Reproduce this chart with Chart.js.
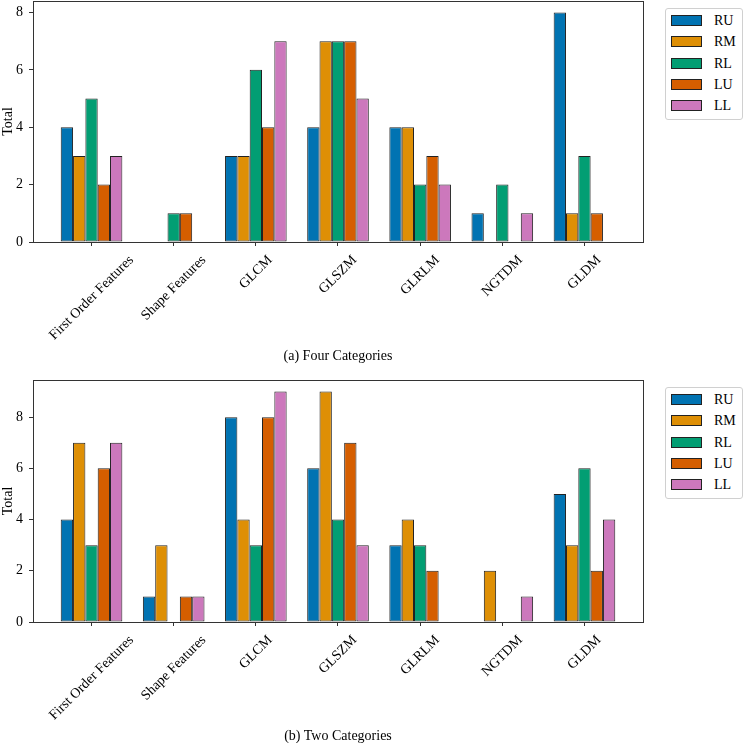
<!DOCTYPE html>
<html lang="en">
<head>
    <meta charset="UTF-8">
    <title>Radiomics feature totals</title>
    <script src="https://cdn.jsdelivr.net/npm/chart.js"></script>
    <style>
        body { margin: 0; background: #fff; font-family: "Liberation Serif", "Times New Roman", serif; }
        #wrap { position: relative; width: 744px; height: 743px; }
        canvas { position: absolute; left: 0; }
        .legend { position: absolute; left: 665px; width: 76px; height: 110px; border: 1px solid #d0d0d0; border-radius: 3px; background: #fff; }
        .legend .item { position: absolute; left: 5px; height: 14px; font-size: 14px; line-height: 14px; color: #000; }
        .legend .box { position: absolute; left: 0; top: 1px; width: 29px; height: 9px; border: 1px solid #222; }
        .legend .txt { position: absolute; left: 43px; top: 0; white-space: nowrap; }
        .caption { position: absolute; left: 33px; width: 610px; text-align: center; font-size: 14px; color: #000; }
    </style>
</head>
<body>
<div id="wrap">
    <canvas id="fourChart" width="744" height="370" style="top:0"></canvas>
    <div class="legend" id="fourLegend" style="top:8px"></div>
    <div class="caption" style="top:348px">(a) Four Categories</div>

    <canvas id="twoChart" width="744" height="373" style="top:370px"></canvas>
    <div class="legend" id="twoLegend" style="top:387px"></div>
    <div class="caption" style="top:728px">(b) Two Categories</div>
</div>

<script>
    // categories on the x axis
    const categories = ['First Order Features', 'Shape Features', 'GLCM', 'GLSZM', 'GLRLM', 'NGTDM', 'GLDM'];
    const regions = ['RU', 'RM', 'RL', 'LU', 'LL'];
    const colors = ['#0173b2', '#de8f05', '#029e73', '#d55e00', '#cc78bc'];

    // (a) four categories
    const fourRU = [4, 0, 3, 4, 4, 1, 8];
    const fourRM = [3, 0, 3, 7, 4, 0, 1];
    const fourRL = [5, 1, 6, 7, 2, 2, 3];
    const fourLU = [2, 1, 4, 7, 3, 0, 1];
    const fourLL = [3, 0, 7, 5, 2, 1, 0];

    // (b) two categories
    const twoRU = [4, 1, 8, 6, 3, 0, 5];
    const twoRM = [7, 3, 4, 9, 4, 2, 3];
    const twoRL = [3, 0, 3, 4, 3, 0, 6];
    const twoLU = [6, 1, 8, 7, 2, 0, 2];
    const twoLL = [7, 1, 9, 3, 0, 1, 4];

    const yTicks = [0, 2, 4, 6, 8];

    Chart.defaults.font.family = '"Liberation Serif", "Times New Roman", serif';
    Chart.defaults.font.size = 14;
    Chart.defaults.color = '#000';

    // box around the plot area (matplotlib spines)
    const frame = {
        id: 'frame',
        afterDraw(chart) {
            const a = chart.chartArea, ctx = chart.ctx;
            ctx.save();
            ctx.strokeStyle = '#333';
            ctx.lineWidth = 1;
            ctx.strokeRect(Math.round(a.left) + 0.5, Math.round(a.top) + 0.5,
                Math.round(a.right - a.left), Math.round(a.bottom - a.top));
            ctx.restore();
        }
    };

    // rotated x labels, centred under each tick
    const slantLabels = {
        id: 'slantLabels',
        afterDraw(chart) {
            const s = chart.scales.x, ctx = chart.ctx;
            ctx.save();
            ctx.font = '14px "Liberation Serif", "Times New Roman", serif';
            ctx.fillStyle = '#000';
            ctx.textAlign = 'center';
            ctx.textBaseline = 'middle';
            s.ticks.forEach((t, i) => {
                const label = categories[t.value];
                if (!label) return;
                const w = ctx.measureText(label).width;
                const half = (w + 14) / (2 * Math.SQRT2);
                ctx.save();
                ctx.translate(s.getPixelForTick(i), chart.chartArea.bottom + 11 + half);
                ctx.rotate(-Math.PI / 4);
                ctx.fillText(label, 0, 0);
                ctx.restore();
            });
            ctx.restore();
        }
    };

    function makeDatasets(series) {
        return series.map((vals, k) => ({
            label: regions[k],
            data: vals.map((v, i) => ({ x: i, y: v })),
            backgroundColor: colors[k],
            borderColor: '#222',
            borderWidth: 1,
            borderSkipped: false,
            categoryPercentage: 0.75,
            barPercentage: 1.0
        }));
    }

    function createChart(id, series, yMax, padTop, xHeight) {
        return new Chart(document.getElementById(id), {
            type: 'bar',
            data: { datasets: makeDatasets(series) },
            options: {
                responsive: false,
                animation: false,
                layout: { padding: { top: padTop, right: 101, left: 0, bottom: 0 } },
                plugins: { legend: { display: false }, tooltip: { enabled: false } },
                scales: {
                    x: {
                        type: 'linear',
                        min: -0.7125,
                        max: 6.7125,
                        offset: false,
                        grid: { display: true, offset: false, drawOnChartArea: false, drawTicks: true, tickLength: 4, color: '#333' },
                        border: { color: '#333' },
                        ticks: { display: false, stepSize: 1, includeBounds: false, autoSkip: false },
                        afterFit: s => { s.height = xHeight; s.paddingLeft = 0; s.paddingRight = 0; }
                    },
                    y: {
                        min: 0,
                        max: yMax,
                        grid: { display: true, drawOnChartArea: false, drawTicks: true, tickLength: 4, color: '#333' },
                        border: { color: '#333' },
                        ticks: { stepSize: 2, includeBounds: false, padding: 6, autoSkip: false,
                                 callback: v => yTicks.includes(v) ? String(v) : '' },
                        title: { display: true, text: 'Total', padding: { top: 0, bottom: 0 } },
                        afterFit: s => { s.width = 33; s.paddingTop = 0; s.paddingBottom = 0; }
                    }
                }
            },
            plugins: [frame, slantLabels]
        });
    }

    function buildLegend(id) {
        const el = document.getElementById(id);
        regions.forEach((r, k) => {
            const item = document.createElement('div');
            item.className = 'item';
            item.style.top = (5 + k * 21.3) + 'px';
            item.style.width = '70px';
            item.innerHTML = '<span class="box" style="background:' + colors[k] + '"></span><span class="txt">' + r + '</span>';
            el.appendChild(item);
        });
    }

    createChart('fourChart', [fourRU, fourRM, fourRL, fourLU, fourLL], 8.4, 1, 128);
    createChart('twoChart', [twoRU, twoRM, twoRL, twoLU, twoLL], 9.45, 10, 121);
    buildLegend('fourLegend');
    buildLegend('twoLegend');
</script>
</body>
</html>
